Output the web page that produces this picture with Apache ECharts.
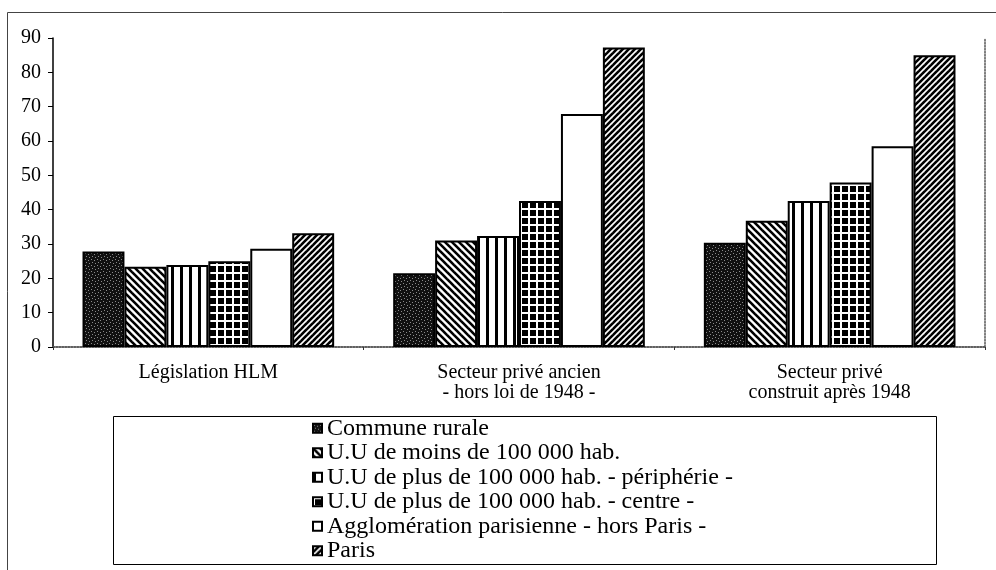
<!DOCTYPE html>
<html><head><meta charset="utf-8">
<script src="https://cdn.jsdelivr.net/npm/echarts@6/dist/echarts.min.js"></script>
<style>html,body{margin:0;padding:0;background:#fff}#c{width:996px;height:570px}</style>
</head><body><div id="c"></div><script>
// ---- data ----
const categories = ['Législation HLM', 'Secteur privé ancien\n- hors loi de 1948 -', 'Secteur privé\nconstruit après 1948'];
const seriesNames = [
  'Commune rurale',
  'U.U de moins de 100 000 hab.',
  'U.U de plus de 100 000 hab. - périphérie -',
  'U.U de plus de 100 000 hab. - centre -',
  'Agglomération parisienne - hors Paris -',
  'Paris'
];
const communeRurale = [27.8, 21.5, 30.4];
const uuMoins100k = [23.4, 31.0, 36.8];
const uuPlusPeripherie = [23.9, 32.3, 42.5];
const uuPlusCentre = [25.0, 42.5, 47.9];
const agglomerationParisienne = [28.6, 67.9, 58.5];
const paris = [33.1, 87.2, 85.0];
const yMin = 0, yMax = 90, yStep = 10;

// ---- patterns (style only) ----
function pat(w, h, draw) {
  const c = document.createElement('canvas'); c.width = w; c.height = h;
  const g = c.getContext('2d'); draw(g, w, h);
  return { image: c, repeat: 'repeat' };
}
const fills = [
  pat(6, 6, (g, w, h) => { g.fillStyle = '#111'; g.fillRect(0, 0, w, h); g.fillStyle = '#8a8a8a';
    [[1,1],[4,2],[2,4],[5,5]].forEach(p => g.fillRect(p[0], p[1], 1, 1)); }),
  pat(7, 7, (g, w, h) => { g.fillStyle = '#fff'; g.fillRect(0, 0, w, h); g.strokeStyle = '#000'; g.lineWidth = 2.6;
    for (let k = -1; k <= 1; k++) { g.beginPath(); g.moveTo(-w, -w + k * w); g.lineTo(2 * w, 2 * w + k * w); g.stroke(); } }),
  pat(9, 9, (g, w, h) => { g.fillStyle = '#fff'; g.fillRect(0, 0, w, h); g.fillStyle = '#000'; g.fillRect(0, 0, 3, h); }),
  pat(8, 8, (g, w, h) => { g.fillStyle = '#000'; g.fillRect(0, 0, w, h); g.fillStyle = '#fff'; g.fillRect(0, 0, w, 2); g.fillRect(0, 0, 2, h); }),
  '#ffffff',
  pat(6, 6, (g, w, h) => { g.fillStyle = '#fff'; g.fillRect(0, 0, w, h); g.strokeStyle = '#000'; g.lineWidth = 2.6;
    for (let k = 0; k <= 2; k++) { g.beginPath(); g.moveTo(-w, k * w + w); g.lineTo(2 * w, k * w - 2 * w); g.stroke(); } })
];
const seriesData = [communeRurale, uuMoins100k, uuPlusPeripherie, uuPlusCentre, agglomerationParisienne, paris];

const FONT = 'Liberation Serif';
const chart = echarts.init(document.getElementById('c'), null, { renderer: 'canvas' });
chart.setOption({
  animation: false,
  backgroundColor: '#fff',
  grid: { left: 53, right: 11, top: 38, bottom: 223 },
  xAxis: [{
    type: 'category', data: categories,
    axisLine: { lineStyle: { color: '#555', width: 1.5, type: 'dotted' } },
    axisTick: { show: true, length: 3, lineStyle: { color: '#333' } },
    axisLabel: { color: '#000', fontFamily: FONT, fontSize: 20, lineHeight: 20, margin: 16 }
  }, {
    type: 'category', data: categories, position: 'top',
    axisLine: { lineStyle: { color: '#555', width: 1.5, type: 'dotted' } },
    axisTick: { show: false }, axisLabel: { show: false }
  }],
  yAxis: [{
    type: 'value', min: yMin, max: yMax, interval: yStep,
    splitLine: { show: false },
    axisLine: { show: true, lineStyle: { color: '#000', width: 1.5 } },
    axisTick: { show: true, length: 5, lineStyle: { color: '#000' } },
    axisLabel: { color: '#000', fontFamily: FONT, fontSize: 20, margin: 12 }
  }, {
    type: 'value', min: yMin, max: yMax, interval: yStep, position: 'right',
    splitLine: { show: false },
    axisLine: { show: true, lineStyle: { color: '#555', width: 1.5, type: 'dotted' } },
    axisTick: { show: false }, axisLabel: { show: false }
  }],
  legend: {
    orient: 'vertical', left: 312, top: 416, padding: 0,
    itemWidth: 9, itemHeight: 9, itemGap: 0,
    icon: 'rect',
    textStyle: { color: '#000', fontFamily: FONT, fontSize: 24, lineHeight: 24.5 },
    data: seriesNames
  },
  graphic: [
    { type: 'polyline', silent: true, z: -1, shape: { points: [[7.5, 600], [7.5, 12.5], [1000, 12.5]] },
      style: { stroke: '#444', lineWidth: 1, fill: null } },
    { type: 'rect', silent: true, z: -1, shape: { x: 113.5, y: 416.5, width: 823, height: 148 },
      style: { stroke: '#000', lineWidth: 1, fill: '#fff' } }
  ],
  series: seriesNames.map((name, i) => ({
    name, type: 'bar', data: seriesData[i],
    barGap: '0%', barCategoryGap: '19%',
    itemStyle: { color: fills[i], borderColor: '#000', borderWidth: 2 }
  }))
});
</script></body></html>
